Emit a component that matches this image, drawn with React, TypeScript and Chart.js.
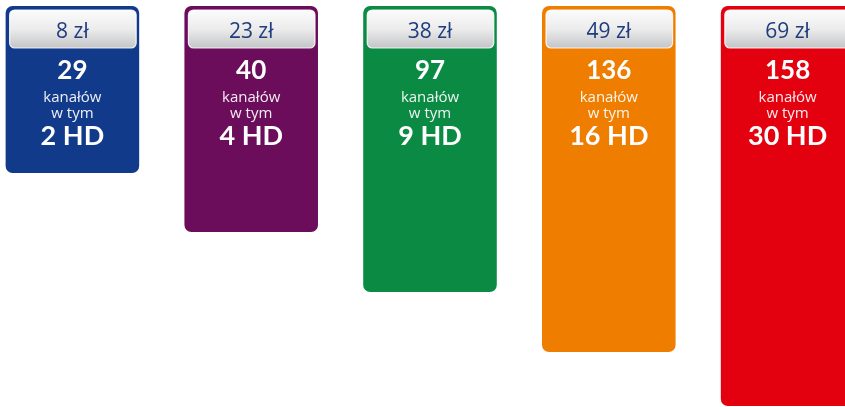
import React, { useEffect, useRef } from "react";
import { Chart, registerables } from "chart.js";

Chart.register(...registerables);

const categories = ["8 zł", "23 zł", "38 zł", "49 zł", "69 zł"];
const channels = [29, 40, 97, 136, 158];
const hdChannels = [2, 4, 9, 16, 30];
const barHeights = [167, 226, 286, 346, 400];
const barColors = ["#123a8b", "#6c0d5c", "#0b8a44", "#ef7d00", "#e3000f"];

const labelPlugin = {
  id: "packageLabels",
  afterDatasetsDraw(chart: any) {
    const ctx = chart.ctx;
    const meta = chart.getDatasetMeta(0);
    meta.data.forEach((bar: any, i: number) => {
      const { x, width, base } = bar;
      const left = x - width / 2;
      const right = x + width / 2;
      const top = Math.min(base, bar.y);
      const bx = left + 4;
      const bw = right - 3 - bx;
      const by = top + 4;
      const bh = 38;
      ctx.save();
      const g = ctx.createLinearGradient(0, by, 0, by + bh);
      g.addColorStop(0, "#fbfbfb");
      g.addColorStop(0.5, "#ececec");
      g.addColorStop(1, "#c4c5c8");
      ctx.fillStyle = g;
      ctx.strokeStyle = "rgba(255,255,255,0.85)";
      ctx.lineWidth = 1.2;
      ctx.beginPath();
      ctx.roundRect(bx, by, bw, bh, 5);
      ctx.fill();
      ctx.stroke();
      ctx.textAlign = "center";
      ctx.textBaseline = "middle";
      ctx.fillStyle = "#1f3c7c";
      ctx.font = "21px 'Open Sans', sans-serif";
      ctx.fillText(categories[i], x, top + 26);
      ctx.fillStyle = "#ffffff";
      ctx.font = "bold 26px Lato, sans-serif";
      ctx.fillText(String(channels[i]), x, top + 65);
      ctx.font = "15px 'Open Sans', sans-serif";
      ctx.fillStyle = "rgba(255,255,255,0.92)";
      ctx.fillText("kanałów", x, top + 92);
      ctx.fillText("w tym", x, top + 108);
      ctx.fillStyle = "#ffffff";
      ctx.font = "bold 27px Lato, sans-serif";
      ctx.fillText(hdChannels[i] + " HD", x, top + 130);
      ctx.restore();
    });
  },
};

export default function App() {
  const ref = useRef<HTMLCanvasElement | null>(null);
  useEffect(() => {
    if (!ref.current) return;
    const chart = new Chart(ref.current, {
      type: "bar",
      data: {
        labels: categories,
        datasets: [
          {
            data: barHeights,
            backgroundColor: barColors,
            borderRadius: 7,
            borderSkipped: false,
            barPercentage: 0.9,
            categoryPercentage: 0.83,
          },
        ],
      },
      options: {
        responsive: true,
        maintainAspectRatio: false,
        animation: false,
        layout: { padding: { top: 6, bottom: 0, left: 0, right: 0 } },
        plugins: { legend: { display: false }, tooltip: { enabled: false } },
        scales: {
          x: { display: false },
          y: { display: false, reverse: true, min: 0, max: 401 },
        },
      },
      plugins: [labelPlugin],
    });
    return () => chart.destroy();
  }, []);
  return (
    <div
      style={{
        position: "fixed",
        left: 0,
        top: 0,
        width: 845,
        height: 407,
        overflow: "hidden",
        background: "#ffffff",
      }}
    >
      <div style={{ position: "absolute", left: -17, top: 0, width: 894, height: 407 }}>
        <canvas ref={ref} />
      </div>
    </div>
  );
}
